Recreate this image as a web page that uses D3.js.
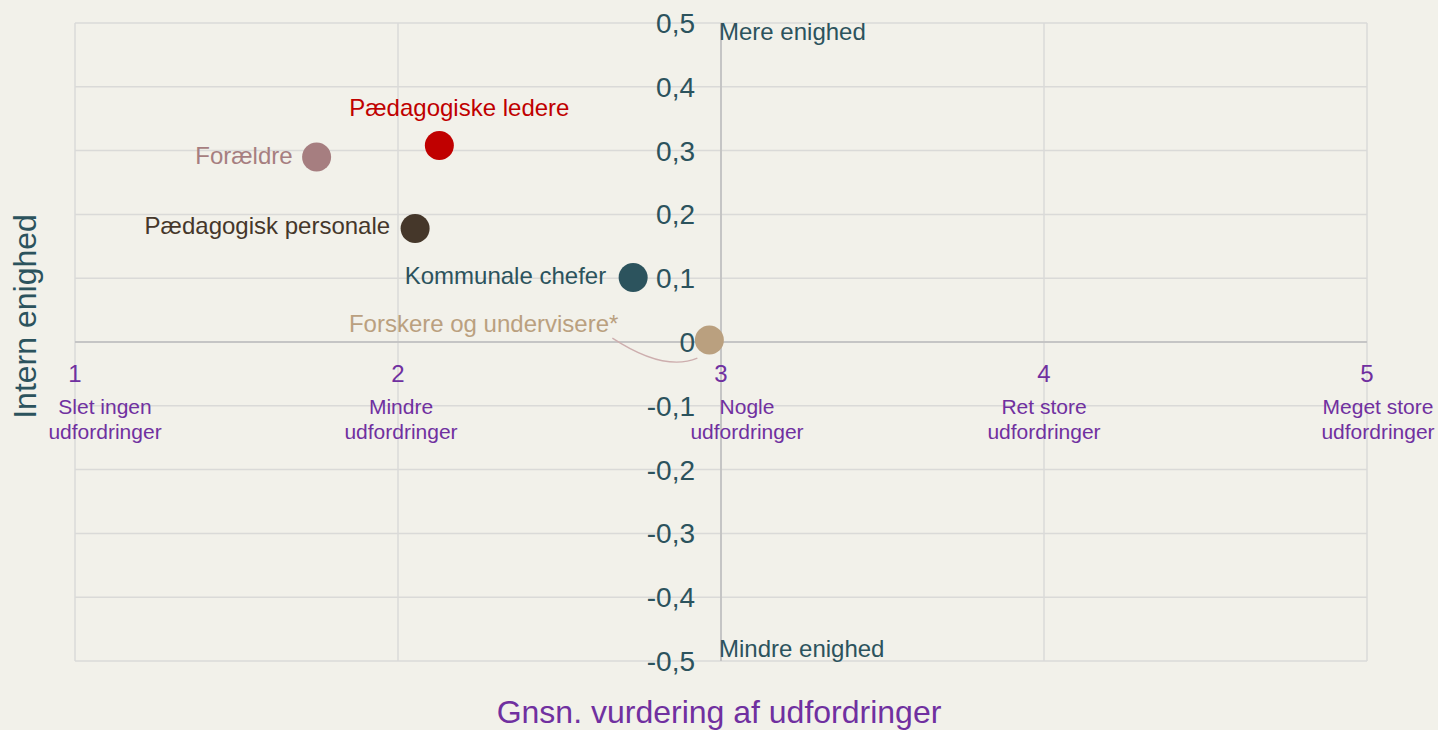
<!DOCTYPE html>
<html>
<head>
<meta charset="utf-8">
<script src="https://cdn.jsdelivr.net/npm/d3@7"></script>
<style>
  html, body { margin: 0; padding: 0; background: #f2f1ea; }
  svg { display: block; font-family: "Liberation Sans", Arial, sans-serif; }
  .grid line { stroke: #dadad8; stroke-width: 1.5; }
  .axis-line { stroke: #bdbdbd; stroke-width: 1.5; }
</style>
</head>
<body>
<div id="chart"></div>
<script>
// groups and their values (x = avg. rating of challenges, y = internal agreement)
var groups = ["Pædagogiske ledere", "Forældre", "Pædagogisk personale", "Kommunale chefer", "Forskere og undervisere*"];
var challengeValues = [2.128, 1.748, 2.053, 2.728, 2.964];
var agreementValues = [0.308, 0.290, 0.178, 0.101, 0.003];
var groupColors = ["#c00000", "#a67e80", "#45372a", "#2c535d", "#baa07f"];

var xTicks = [1, 2, 3, 4, 5];
var xTickNames = [["Slet ingen", "udfordringer"], ["Mindre", "udfordringer"], ["Nogle", "udfordringer"], ["Ret store", "udfordringer"], ["Meget store", "udfordringer"]];
var yTicks = [-0.5, -0.4, -0.3, -0.2, -0.1, 0, 0.1, 0.2, 0.3, 0.4, 0.5];

var data = groups.map(function(g, i) {
    return {name: g, x: challengeValues[i], y: agreementValues[i], color: groupColors[i]};
});

var width = 1438, height = 730;
var margin = {top: 23, right: 71, bottom: 69, left: 75};
var w = width - margin.left - margin.right;
var h = height - margin.top - margin.bottom;

var svg = d3.select("#chart").append("svg")
    .attr("width", width)
    .attr("height", height);

var g = svg.append("g")
    .attr("transform", "translate(" + margin.left + "," + margin.top + ")");

var xScale = d3.scaleLinear().domain([1, 5]).range([0, w]);
var yScale = d3.scaleLinear().domain([-0.5, 0.5]).range([h, 0]);

// grid
var grid = g.append("g").attr("class", "grid");
grid.selectAll(".hgrid").data(yTicks).enter().append("line")
    .attr("x1", 0).attr("x2", w)
    .attr("y1", function(d) { return yScale(d); })
    .attr("y2", function(d) { return yScale(d); });
grid.selectAll(".vgrid").data(xTicks).enter().append("line")
    .attr("y1", 0).attr("y2", h)
    .attr("x1", function(d) { return xScale(d); })
    .attr("x2", function(d) { return xScale(d); });

// axes crossing at (3, 0)
g.append("line").attr("class", "axis-line")
    .attr("x1", 0).attr("x2", w)
    .attr("y1", yScale(0)).attr("y2", yScale(0));
g.append("line").attr("class", "axis-line")
    .attr("x1", xScale(3)).attr("x2", xScale(3))
    .attr("y1", 0).attr("y2", h);

var fmt = function(d) {
    return d3.format(".1~f")(d).replace(".", ",").replace("\u2212", "-");
};

// y tick labels
g.selectAll(".ytick").data(yTicks).enter().append("text")
    .attr("class", "ytick")
    .attr("x", xScale(3) - 26)
    .attr("y", function(d) { return yScale(d); })
    .attr("dy", "0.36em")
    .attr("text-anchor", "end")
    .attr("fill", "#2c535d")
    .style("font-size", "28px")
    .text(fmt);

// x tick labels
g.selectAll(".xtick").data(xTicks).enter().append("text")
    .attr("class", "xtick")
    .attr("x", function(d) { return xScale(d); })
    .attr("y", yScale(0) + 40)
    .attr("text-anchor", "middle")
    .attr("fill", "#7030a0")
    .style("font-size", "24px")
    .text(function(d) { return d; });

var subShift = [30, 3, 26, 0, 11];
var sub = g.selectAll(".xsub").data(xTicks).enter().append("text")
    .attr("class", "xsub")
    .attr("text-anchor", "middle")
    .attr("fill", "#7030a0")
    .style("font-size", "21px");
sub.each(function(d, i) {
    var t = d3.select(this);
    xTickNames[i].forEach(function(line, j) {
        t.append("tspan")
            .attr("x", xScale(d) + subShift[i])
            .attr("y", yScale(0) + 72 + j * 25)
            .text(line);
    });
});

// quadrant notes
g.append("text")
    .attr("x", xScale(3) - 2).attr("y", yScale(0.5) + 17)
    .attr("fill", "#2c535d").style("font-size", "24px")
    .text("Mere enighed");
g.append("text")
    .attr("x", xScale(3) - 2).attr("y", yScale(-0.5) - 4)
    .attr("fill", "#2c535d").style("font-size", "24px")
    .text("Mindre enighed");

// axis titles
svg.append("text")
    .attr("transform", "translate(36," + (margin.top + yScale(0.04)) + ") rotate(-90)")
    .attr("text-anchor", "middle")
    .attr("fill", "#2c535d")
    .style("font-size", "32px")
    .text("Intern enighed");
svg.append("text")
    .attr("x", margin.left + xScale(3) - 2)
    .attr("y", 723)
    .attr("text-anchor", "middle")
    .attr("fill", "#7030a0")
    .style("font-size", "32px")
    .text("Gnsn. vurdering af udfordringer");

// leader line for the last group
var last = data[4];
var lx = xScale(last.x), ly = yScale(last.y);
var p = d3.path();
p.moveTo(lx - 97, ly - 2);
p.quadraticCurveTo(lx - 45, ly + 32, lx - 12, ly + 18);
g.append("path")
    .attr("d", p.toString())
    .attr("fill", "none")
    .attr("stroke", "#cdaeae")
    .attr("stroke-width", 1.3);

// points
g.selectAll(".dot").data(data).enter().append("circle")
    .attr("class", "dot")
    .attr("cx", function(d) { return xScale(d.x); })
    .attr("cy", function(d) { return yScale(d.y); })
    .attr("r", 14.5)
    .attr("fill", function(d) { return d.color; });

// point labels
var labelOffset = [
    {dx: 20, dy: -29, anchor: "middle"},
    {dx: -24, dy: 7, anchor: "end"},
    {dx: -25, dy: 6, anchor: "end"},
    {dx: -27, dy: 6, anchor: "end"},
    {dx: -91, dy: -8, anchor: "end"}
];
g.selectAll(".lbl").data(data).enter().append("text")
    .attr("class", "lbl")
    .attr("x", function(d, i) { return xScale(d.x) + labelOffset[i].dx; })
    .attr("y", function(d, i) { return yScale(d.y) + labelOffset[i].dy; })
    .attr("text-anchor", function(d, i) { return labelOffset[i].anchor; })
    .attr("fill", function(d) { return d.color; })
    .style("font-size", "24px")
    .text(function(d) { return d.name; });
</script>
</body>
</html>
